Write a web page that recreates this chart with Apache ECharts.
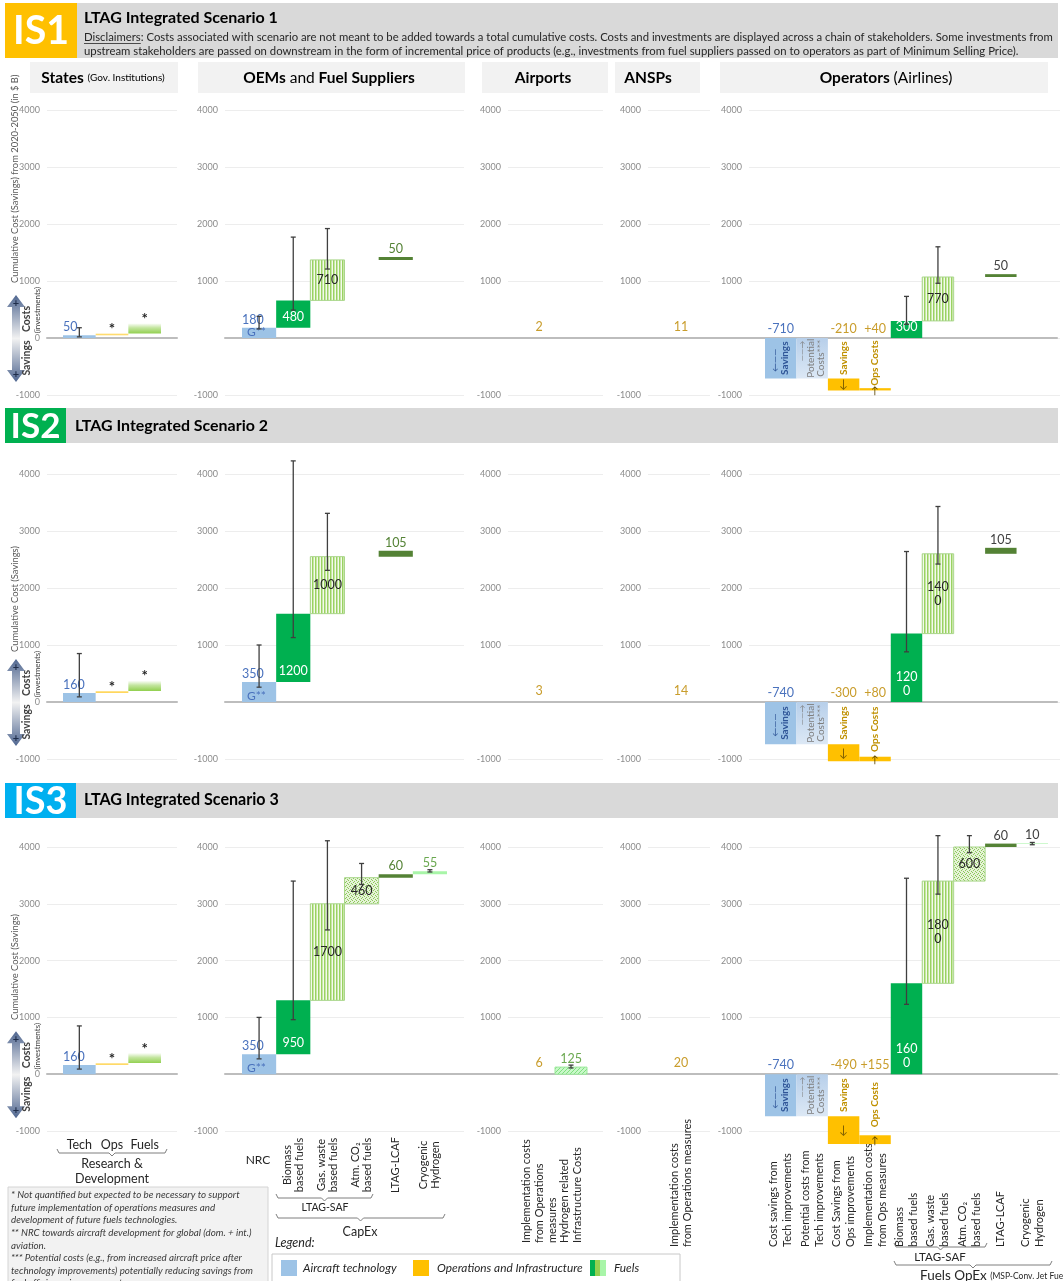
<!DOCTYPE html>
<html><head><meta charset="utf-8">
<script src="https://cdn.jsdelivr.net/npm/echarts@6/dist/echarts.min.js"></script>
<style>html,body{margin:0;padding:0;background:#fff}#c{width:1063px;height:1281px}</style>
</head><body><div id="c"></div>
<script>
// ================= DATA =================
const STATES_CATS = ['Tech', 'Ops', 'Fuels'];
const OEM_CATS = ['NRC', 'Biomass\nbased fuels', 'Gas. waste\nbased fuels', 'Atm. CO₂\nbased fuels', 'LTAG-LCAF', 'Cryogenic\nHydrogen'];
const AIRPORT_CATS = ['Implementation costs\nfrom Operations\nmeasures', 'Hydrogen related\nInfrastructure Costs'];
const ANSP_CATS = ['Implementation costs\nfrom Operations measures'];
const OPS_CATS = ['Cost savings from\nTech improvements', 'Potential costs from\nTech improvements', 'Cost Savings from\nOps improvements', 'Implementation costs\nfrom Ops measures', 'Biomass\nbased fuels', 'Gas. waste\nbased fuels', 'Atm. CO₂\nbased fuels', 'LTAG-LCAF', 'Cryogenic\nHydrogen'];
const Y_MIN = -1000, Y_MAX = 4000, Y_STEP = 1000;

// waterfall increments (null = no bar); States Ops/Fuels are "*" (not quantified, drawn size estimated)
const IS1_STATES = [50, 30, 180];
const IS1_STATES_ERR = [[20, 180], null, null];
const IS1_OEM = [180, 480, 710, null, 50, null];
const IS1_OEM_ERR = [[160, 380], [490, 1770], [1210, 1920], null, null, null];
const IS1_AIRPORTS = [2, null];
const IS1_ANSPS = [11];
const IS1_OPS = [-710, -710, -210, 40, 300, 770, null, 50, null];
const IS1_OPS_ERR = [null, null, null, null, [240, 730], [960, 1600], null, null, null];

const IS2_STATES = [160, 35, 180];
const IS2_STATES_ERR = [[90, 850], null, null];
const IS2_OEM = [350, 1200, 1000, null, 105, null];
const IS2_OEM_ERR = [[260, 1000], [1130, 4230], [2310, 3310], null, null, null];
const IS2_AIRPORTS = [3, null];
const IS2_ANSPS = [14];
const IS2_OPS = [-740, -740, -300, 80, 1200, 1400, null, 105, null];
const IS2_OPS_ERR = [null, null, null, null, [880, 2640], [2420, 3430], null, null, null];

const IS3_STATES = [160, 35, 180];
const IS3_STATES_ERR = [[90, 850], null, null];
const IS3_OEM = [350, 950, 1700, 460, 60, 55];
const IS3_OEM_ERR = [[270, 1000], [960, 3400], [2540, 4110], [3340, 3710], null, [3560, 3600]];
const IS3_AIRPORTS = [6, 125];
const IS3_AIRPORTS_ERR = [null, [110, 160]];
const IS3_ANSPS = [20];
const IS3_OPS = [-740, -740, -490, 155, 1600, 1800, 600, 60, 10];
const IS3_OPS_ERR = [null, null, null, null, [1230, 3450], [3170, 4200], [3900, 4200], null, [4040, 4080]];

// ================= STRUCTURE =================
const STATES_KINDS = ['tech', 'rdOps', 'rdFuel'];
const OEM_KINDS = ['nrc', 'bio', 'gas', 'atm', 'lcaf', 'cryo'];
const AIRPORT_KINDS = ['opsImpl', 'h2'];
const ANSP_KINDS = ['opsImpl'];
const OPS_KINDS = ['techSav', 'pot', 'opsSav', 'opsCost', 'bio', 'gas', 'atm', 'lcaf', 'cryo'];
const RESETS = {states: [], oem: [], airports: [1], ansps: [], ops: [1, 4]};
const PANEL_DEF = {
  states: {cats: STATES_CATS, kinds: STATES_KINDS},
  oem: {cats: OEM_CATS, kinds: OEM_KINDS},
  airports: {cats: AIRPORT_CATS, kinds: AIRPORT_KINDS},
  ansps: {cats: ANSP_CATS, kinds: ANSP_KINDS},
  ops: {cats: OPS_CATS, kinds: OPS_KINDS}
};
const SCEN = [
  {states: [IS1_STATES, IS1_STATES_ERR], oem: [IS1_OEM, IS1_OEM_ERR], airports: [IS1_AIRPORTS, null], ansps: [IS1_ANSPS, null], ops: [IS1_OPS, IS1_OPS_ERR]},
  {states: [IS2_STATES, IS2_STATES_ERR], oem: [IS2_OEM, IS2_OEM_ERR], airports: [IS2_AIRPORTS, null], ansps: [IS2_ANSPS, null], ops: [IS2_OPS, IS2_OPS_ERR]},
  {states: [IS3_STATES, IS3_STATES_ERR], oem: [IS3_OEM, IS3_OEM_ERR], airports: [IS3_AIRPORTS, IS3_AIRPORTS_ERR], ansps: [IS3_ANSPS, null], ops: [IS3_OPS, IS3_OPS_ERR]}
];

// ================= LAYOUT & STYLE =================
const FAMILY = 'Lato, "Open Sans", "DejaVu Sans", sans-serif';
const fnt = (size, weight, style) => `${style || 'normal'} ${weight || 'normal'} ${size}px ${FAMILY}`;
const ROW_Y = [[110, 395], [474, 759], [847, 1131]];
const PANEL_ORDER = ['states', 'oem', 'airports', 'ansps', 'ops'];
const PANEL_LAYOUT = {
  states: {axis: [47, 177], data: [63, 161]},
  oem: {axis: [225, 464], data: [242, 447]},
  airports: {axis: [508, 603], data: [523, 587]},
  ansps: {axis: [648, 710], data: [665, 697]},
  ops: {axis: [749, 1060], data: [765, 1048]}
};
const ZERO_SPAN = [225, 1057];
const XLABEL = {
  states: {rotate: 0, margin: 7, fontSize: 12.5, lineHeight: 14},
  oem: {rotate: 90, align: 'center', verticalAlign: 'middle', margin: 34, fontSize: 11, lineHeight: 12, formatter: (v, i) => i === 0 ? '' : v},
  airports: {rotate: 90, align: 'left', verticalAlign: 'middle', margin: 112, fontSize: 11, lineHeight: 13},
  ansps: {rotate: 90, align: 'left', verticalAlign: 'middle', margin: 116, fontSize: 11, lineHeight: 13},
  ops: {rotate: 90, align: 'left', verticalAlign: 'middle', margin: 116, fontSize: 11, lineHeight: 14}
};

const BLUE = '#4a72bd', BLUE_D = '#2f5597', GOLD_L = '#c99d2c', GOLD_T = '#bf9000', GREY = '#7f7f7f', DARK = '#262626';

function patternCanvas(kind) {
  const c = document.createElement('canvas');
  const g = c.getContext('2d');
  if (kind === 'stripe') {
    c.width = 3; c.height = 3;
    g.fillStyle = '#f3faec'; g.fillRect(0, 0, 3, 3);
    g.fillStyle = '#9ad262'; g.fillRect(0, 0, 1, 3);
    g.fillStyle = '#c7e6a6'; g.fillRect(1, 0, 1, 3);
  } else if (kind === 'dots') {
    c.width = 4; c.height = 4;
    g.fillStyle = '#e6f3d8'; g.fillRect(0, 0, 4, 4);
    g.fillStyle = '#8cc85a';
    g.fillRect(0, 0, 1, 1); g.fillRect(2, 1, 1, 1); g.fillRect(1, 2, 1, 1); g.fillRect(3, 3, 1, 1);
  } else {
    c.width = 4; c.height = 4;
    g.fillStyle = '#c9f8c9'; g.fillRect(0, 0, 4, 4);
    g.fillStyle = '#7fe07f';
    g.fillRect(0, 3, 1, 1); g.fillRect(1, 2, 1, 1); g.fillRect(2, 1, 1, 1); g.fillRect(3, 0, 1, 1);
  }
  return {image: c, repeat: 'repeat'};
}
const lin = (x2, y2, stops) => ({type: 'linear', x: 0, y: 0, x2, y2, global: false, colorStops: stops.map(c => ({offset: c[0], color: c[1]}))});
const KIND_STYLE = {
  tech: {fill: '#9dc3e6'}, nrc: {fill: '#9dc3e6'}, techSav: {fill: '#9dc3e6'},
  pot: {fill: lin(0, 1, [[0, '#b7cfea'], [1, '#dce8f5']])},
  rdOps: {fill: lin(0, 1, [[0, 'rgba(255,192,0,0.35)'], [1, 'rgba(255,192,0,0.7)']])},
  rdFuel: {fill: lin(0, 1, [[0, 'rgba(146,208,80,0.0)'], [0.45, 'rgba(146,208,80,0.55)'], [1, '#92d050']])},
  bio: {fill: '#00b050'},
  gas: {fill: patternCanvas('stripe'), stroke: '#a9d68a'},
  atm: {fill: patternCanvas('dots'), stroke: '#a9d68a'},
  lcaf: {fill: '#548235'},
  cryo: {fill: '#a8f5a8'},
  opsSav: {fill: '#ffc000'}, opsCost: {fill: '#ffc000'}, opsImpl: {fill: '#ffc000'},
  h2: {fill: patternCanvas('hatch'), stroke: '#9be89b'}
};

function labelText(m, panelKey) {
  if (m.kind === 'rdOps' || m.kind === 'rdFuel') return '*';
  if (m.kind === 'pot') return '';
  if (m.kind === 'opsCost') return '+' + m.v;
  let s = String(m.v);
  if (panelKey === 'ops' && (m.kind === 'bio' || m.kind === 'gas') && s.length > 3) s = s.slice(0, 3) + '\n' + s.slice(3);
  return s;
}

function renderBar(params, api, m, panelKey) {
  const i = api.value(0), a = api.value(1), b = api.value(2);
  const pa = api.coord([i, a]), pb = api.coord([i, b]);
  const bw = api.size([1, 0])[0];
  const cx = pa[0], x0 = cx - bw / 2;
  const top = Math.min(pa[1], pb[1]), bot = Math.max(pa[1], pb[1]);
  const h = Math.max(bot - top, 0.5);
  const zeroY = api.coord([i, 0])[1];
  const mid = (top + bot) / 2;
  const ch = [];
  const st = KIND_STYLE[m.kind];
  if (m.kind !== 'opsImpl') {
    ch.push({type: 'rect', shape: {x: x0, y: top, width: bw, height: h},
      style: {fill: st.fill, stroke: st.stroke || null, lineWidth: st.stroke ? 1 : 0}});
  }
  const T = (x, y, text, fill, font, align, va, rot) => ch.push({type: 'text', x, y, rotation: rot || 0,
    style: {text, fill, font, align, verticalAlign: va, lineHeight: 14}});
  const lbl = labelText(m, panelKey);
  const R = Math.PI / 2;
  switch (m.kind) {
    case 'tech': T(x0, top - 1, lbl, BLUE, fnt(12.5), 'left', 'bottom'); break;
    case 'nrc':
      T(x0, top - 1, lbl, BLUE, fnt(12.5), 'left', 'bottom');
      T(x0 + 5, bot + 1, 'G**', BLUE, fnt(12), 'left', 'bottom'); break;
    case 'rdOps': case 'rdFuel': T(cx, top + 3, '*', DARK, fnt(15, 'bold'), 'center', 'bottom'); break;
    case 'bio': T(cx, bot - 4, lbl, '#ffffff', fnt(12.5), 'center', 'bottom'); break;
    case 'gas': case 'atm': T(cx, mid, lbl, DARK, fnt(12.5), 'center', 'middle'); break;
    case 'lcaf': case 'cryo':
      T(cx, top - 1, lbl, panelKey === 'ops' ? '#404040' : (m.kind === 'lcaf' ? '#548235' : '#6aa84f'), fnt(12.5), 'center', 'bottom'); break;
    case 'opsImpl': T(cx, zeroY - 4, lbl, GOLD_L, fnt(12.5), 'center', 'bottom'); break;
    case 'h2': T(cx, top - 1, lbl, '#6aa84f', fnt(12.5), 'center', 'bottom'); break;
    case 'techSav':
      T(cx, zeroY - 2, lbl, BLUE, fnt(12.5), 'center', 'bottom');
      T(cx - 6, mid + 2, '←——', BLUE_D, fnt(9), 'center', 'middle', R);
      T(cx + 4, mid, 'Savings', BLUE_D, fnt(10, 'bold'), 'center', 'middle', R); break;
    case 'pot':
      T(cx - 10, top + 13, '——→', GREY, fnt(8), 'center', 'middle', R);
      T(cx - 1, mid, 'Potential', GREY, fnt(10), 'center', 'middle', R);
      T(cx + 9, mid, 'Costs***', GREY, fnt(10), 'center', 'middle', R); break;
    case 'opsSav':
      T(cx, zeroY - 2, lbl, GOLD_L, fnt(12.5), 'center', 'bottom');
      T(cx, (zeroY + top) / 2, 'Savings', GOLD_T, fnt(10, 'bold'), 'center', 'middle', R);
      T(cx, mid, '↓', '#7f6000', fnt(12), 'center', 'middle'); break;
    case 'opsCost':
      T(cx, zeroY - 2, lbl, GOLD_L, fnt(12.5), 'center', 'bottom');
      T(cx, (zeroY + top) / 2, 'Ops Costs', GOLD_T, fnt(10, 'bold'), 'center', 'middle', R);
      T(cx, mid + 1, '↑', '#5a4500', fnt(10), 'center', 'middle'); break;
  }
  return {type: 'group', children: ch};
}

function renderErr(params, api) {
  const i = api.value(0), lo = api.value(1), hi = api.value(2);
  const p1 = api.coord([i, lo]), p2 = api.coord([i, hi]);
  const c = 2.5, s = {stroke: '#3f3f3f', lineWidth: 1.3};
  return {type: 'group', children: [
    {type: 'line', shape: {x1: p1[0], y1: p1[1], x2: p2[0], y2: p2[1]}, style: s},
    {type: 'line', shape: {x1: p1[0] - c, y1: p1[1], x2: p1[0] + c, y2: p1[1]}, style: s},
    {type: 'line', shape: {x1: p2[0] - c, y1: p2[1], x2: p2[0] + c, y2: p2[1]}, style: s}
  ]};
}

// ================= BUILD OPTION =================
const grids = [], xAxes = [], yAxes = [], series = [];
function addGrid(l, r, t, b) { grids.push({left: l, width: r - l, top: t, height: b - t}); return grids.length - 1; }
const hiddenY = gi => ({gridIndex: gi, type: 'value', min: Y_MIN, max: Y_MAX, interval: Y_STEP, show: false, splitLine: {show: false}});

for (let r = 0; r < 3; r++) {
  const [t, b] = ROW_Y[r];
  const gz = addGrid(ZERO_SPAN[0], ZERO_SPAN[1], t, b);
  xAxes.push({gridIndex: gz, type: 'category', data: [''], axisLine: {show: true, onZero: true, lineStyle: {color: '#bdbdbd', width: 2}}, axisTick: {show: false}, axisLabel: {show: false}, z: 1});
  yAxes.push(hiddenY(gz));
  PANEL_ORDER.forEach((pk, p) => {
    const L = PANEL_LAYOUT[pk], D = PANEL_DEF[pk];
    const ga = addGrid(L.axis[0], L.axis[1], t, b);
    xAxes.push({gridIndex: ga, type: 'category', data: [''], axisLine: {show: p === 0, onZero: true, lineStyle: {color: '#bdbdbd', width: 2}}, axisTick: {show: false}, axisLabel: {show: false}, z: 1});
    yAxes.push({gridIndex: ga, type: 'value', min: Y_MIN, max: Y_MAX, interval: Y_STEP,
      axisLine: {show: false}, axisTick: {show: false},
      axisLabel: {fontSize: 9, color: '#8c8c8c', margin: 7, fontFamily: FAMILY, formatter: v => (v === 0 && p > 0) ? '' : String(v)},
      splitLine: {lineStyle: {color: '#ededed', width: 1}}});
    const gd = addGrid(L.data[0], L.data[1], t, b);
    const xl = XLABEL[pk];
    xAxes.push({gridIndex: gd, type: 'category', data: D.cats, position: 'bottom',
      axisLine: {show: false, onZero: false}, axisTick: {show: false},
      axisLabel: Object.assign({show: r === 2, interval: 0, color: DARK, fontFamily: FAMILY}, xl)});
    yAxes.push(hiddenY(gd));
    const xi = xAxes.length - 1, yi = yAxes.length - 1;
    const [vals, errs] = SCEN[r][pk];
    const data = [], meta = [];
    let run = 0;
    vals.forEach((v, i) => {
      if (RESETS[pk].includes(i)) run = 0;
      if (v == null) return;
      data.push([i, run, run + v]);
      meta.push({kind: D.kinds[i], v});
      run += v;
    });
    series.push({type: 'custom', xAxisIndex: xi, yAxisIndex: yi, clip: false, silent: true, z: 3,
      encode: {x: 0, y: [1, 2]}, data,
      renderItem: (params, api) => renderBar(params, api, meta[params.dataIndex], pk)});
    const edata = [];
    (errs || []).forEach((e, i) => { if (e) edata.push([i, e[0], e[1]]); });
    if (edata.length) series.push({type: 'custom', xAxisIndex: xi, yAxisIndex: yi, clip: false, silent: true, z: 4,
      encode: {x: 0, y: [1, 2]}, data: edata, renderItem: renderErr});
  });
}

// ================= GRAPHICS (headers, notes, legend) =================
const G = [];
const mctx = document.createElement('canvas').getContext('2d');
function fitSize(text, weight, style, target) { mctx.font = fnt(20, weight, style); return 20 * target / mctx.measureText(text).width; }
function tw(text, font) { mctx.font = font; return mctx.measureText(text).width; }
function gRect(x, y, w, h, style, z) { G.push({type: 'rect', shape: {x, y, width: w, height: h}, style, z: z || 0, silent: true}); }
function gText(x, y, text, font, fill, align, va, rot, rich) {
  const st = {text, font, fill, align: align || 'left', verticalAlign: va || 'middle'};
  if (rich) st.rich = rich;
  G.push({type: 'text', x, y, rotation: rot || 0, style: st, z: 5, silent: true});
}
function gLine(points, stroke, w) { G.push({type: 'polyline', shape: {points}, style: {stroke, lineWidth: w || 1, fill: null}, z: 5, silent: true}); }
function bracket(x1, x2, y, tickDown) {
  const xm = (x1 + x2) / 2;
  gLine([[x1, y - 4], [x1 + 2, y], [xm - 3, y], [xm, y + (tickDown || 3)], [xm + 3, y], [x2 - 2, y], [x2, y - 4]], '#7f7f7f', 1);
}

const BANDS = [
  {lab: 'IS1', color: '#ffc000', y: 3, h: 55, boxW: 72, labW: 56, title: 'LTAG Integrated Scenario 1', tx: 84, ty: 18, tw: 194},
  {lab: 'IS2', color: '#00b050', y: 408, h: 35, boxW: 61, labW: 50, title: 'LTAG Integrated Scenario 2', tx: 75, ty: 426, tw: 193},
  {lab: 'IS3', color: '#00b0f0', y: 783, h: 35, boxW: 71, labW: 54, title: 'LTAG Integrated Scenario 3', tx: 84, ty: 800, tw: 195}
];
BANDS.forEach(bd => {
  gRect(5, bd.y, 1053, bd.h, {fill: '#d9d9d9'});
  gRect(5, bd.y, bd.boxW, bd.h, {fill: bd.color});
  gText(5 + bd.boxW / 2, bd.y + bd.h / 2 + 1, bd.lab, fnt(fitSize(bd.lab, 'bold', 'normal', bd.labW), 'bold'), '#ffffff', 'center', 'middle');
  gText(bd.tx, bd.ty, bd.title, fnt(fitSize(bd.title, 'bold', 'normal', bd.tw), 'bold'), '#000000', 'left', 'middle');
});
const DISC1 = 'Disclaimers: Costs associated with scenario are not meant to be added towards a total cumulative costs. Costs and investments are displayed across a chain of stakeholders. Some investments from';
const DISC2 = 'upstream stakeholders are passed on downstream in the form of incremental price of products (e.g., investments from fuel suppliers passed on to operators as part of Minimum Selling Price).';
const dSize = fitSize(DISC1, 'normal', 'normal', 970);
gText(84, 37, DISC1, fnt(dSize), '#262626');
gText(84, 51, DISC2, fnt(dSize), '#262626');
gLine([[84, 43.5], [84 + tw('Disclaimers', fnt(dSize)), 43.5]], '#262626', 0.8);

const TITLES = [
  {x: 30, w: 148, cx: 103, t: '{b|States} {s|(Gov. Institutions)}'},
  {x: 198, w: 267, cx: 329, t: '{b|OEMs} {n|and} {b|Fuel Suppliers}'},
  {x: 482, w: 126, cx: 543, t: '{b|Airports}'},
  {x: 615, w: 85, cx: 648, t: '{b|ANSPs}'},
  {x: 720, w: 328, cx: 886, t: '{b|Operators} {n|(Airlines)}'}
];
const TRICH = {b: {font: fnt(15.5, 'bold'), fill: '#000'}, n: {font: fnt(15.5), fill: '#000'}, s: {font: fnt(10), fill: '#000'}};
TITLES.forEach(o => {
  gRect(o.x, 62, o.w, 31, {fill: '#f2f2f2'});
  gText(o.cx, 78, o.t, fnt(15), '#000', 'center', 'middle', 0, TRICH);
});

const YT = [
  {t: 'Cumulative Cost (Savings) from 2020-2050 (in $ B)', bottom: 283},
  {t: 'Cumulative Cost (Savings)', bottom: 652},
  {t: 'Cumulative Cost (Savings)', bottom: 1020}
];
const ytSize = fitSize('Cumulative Cost (Savings)', 'normal', 'normal', 106);
YT.forEach((o, r) => {
  gText(15, o.bottom, o.t, fnt(ytSize), '#595959', 'left', 'middle', Math.PI / 2);
  const z = ROW_Y[r][0] + (ROW_Y[r][1] - ROW_Y[r][0]) * 0.8;
  const yT = z - 43, yB = z + 44, c = 16;
  G.push({type: 'polygon', shape: {points: [[c, yT], [c + 9, yT + 12], [c + 4, yT + 12], [c + 4, yB - 12], [c + 9, yB - 12], [c, yB], [c - 9, yB - 12], [c - 4, yB - 12], [c - 4, yT + 12], [c - 9, yT + 12]]},
    style: {fill: lin(0, 1, [[0, '#4f6690'], [0.5, '#f2f2f2'], [1, '#4f6690']])}, z: 4, silent: true});
  gText(c, yT + 8, '+', fnt(11, 'bold'), '#1f2d4a', 'center', 'middle');
  gText(c, yB - 8, '+', fnt(11, 'bold'), '#1f2d4a', 'center', 'middle');
  gText(27, z - 19, 'Costs', fnt(10.5, 'bold'), '#404040', 'center', 'middle', Math.PI / 2);
  gText(37, z - 28, '(investments)', fnt(8), '#404040', 'center', 'middle', Math.PI / 2);
  gText(27, z + 20, 'Savings', fnt(10.5, 'bold'), '#404040', 'center', 'middle', Math.PI / 2);
});

bracket(57, 167, 1153);
gText(112, 1164, 'Research &', fnt(12.5), DARK, 'center', 'middle');
gText(112, 1179, 'Development', fnt(12.5), DARK, 'center', 'middle');
gText(258, 1160, 'NRC', fnt(12), DARK, 'center', 'middle');
bracket(276, 373, 1198);
gText(325, 1208, 'LTAG-SAF', fnt(10.5), DARK, 'center', 'middle');
bracket(276, 445, 1218);
gText(360, 1232, 'CapEx', fnt(12.5), DARK, 'center', 'middle');
bracket(894, 987, 1247);
gText(940, 1257, 'LTAG-SAF', fnt(11.5), DARK, 'center', 'middle');
bracket(894, 1052, 1265);
gText(920, 1276, '{a|Fuels OpEx} {b|(MSP-Conv. Jet Fuel)}', fnt(13), DARK, 'left', 'middle', 0,
  {a: {font: fnt(13.5), fill: DARK}, b: {font: fnt(8.5), fill: DARK}});

const FOOTNOTES = [
  '* Not quantified but expected to be necessary to support',
  'future implementation of operations measures and',
  'development of future fuels technologies.',
  '** NRC towards aircraft development for global (dom. + int.)',
  'aviation.',
  '*** Potential costs (e.g., from increased aircraft price after',
  'technology improvements) potentially reducing savings from',
  'fuel efficiency improvements.'
];
gRect(8, 1187, 260, 100, {fill: '#f2f2f2', stroke: '#d4d4d4', lineWidth: 1});
const fnSize = fitSize(FOOTNOTES[0], 'normal', 'italic', 229);
FOOTNOTES.forEach((l, k) => gText(11, 1195 + k * 12.6, l, fnt(fnSize, 'normal', 'italic'), '#3a3a3a'));

// Legend
const LEG_ITEMS = ['Aircraft technology', 'Operations and Infrastructure', 'Fuels'];
gText(275, 1243, 'Legend:', fnt(12.5, 'normal', 'italic'), DARK);
gRect(272, 1254, 408, 40, {fill: '#ffffff', stroke: '#c8c8c8', lineWidth: 1});
const legSize = Math.min(12.5, fitSize(LEG_ITEMS[1], 'normal', 'italic', 146));
gRect(281, 1260, 16, 16, {fill: '#9dc3e6'});
gText(303, 1268, LEG_ITEMS[0], fnt(legSize, 'normal', 'italic'), DARK);
gRect(413, 1260, 16, 16, {fill: '#ffc000'});
gText(437, 1268, LEG_ITEMS[1], fnt(legSize, 'normal', 'italic'), DARK);
gRect(590, 1260, 5, 16, {fill: '#00b050'});
gRect(595, 1260, 5, 16, {fill: '#92d050'});
gRect(600, 1260, 6, 16, {fill: '#a8f5a8'});
gText(614, 1268, LEG_ITEMS[2], fnt(legSize, 'normal', 'italic'), DARK);

const option = {
  animation: false,
  backgroundColor: '#ffffff',
  textStyle: {fontFamily: FAMILY},
  grid: grids, xAxis: xAxes, yAxis: yAxes, series,
  graphic: {elements: G}
};
const chart = echarts.init(document.getElementById('c'), null, {renderer: 'canvas'});
chart.setOption(option);
</script>
</body></html>
